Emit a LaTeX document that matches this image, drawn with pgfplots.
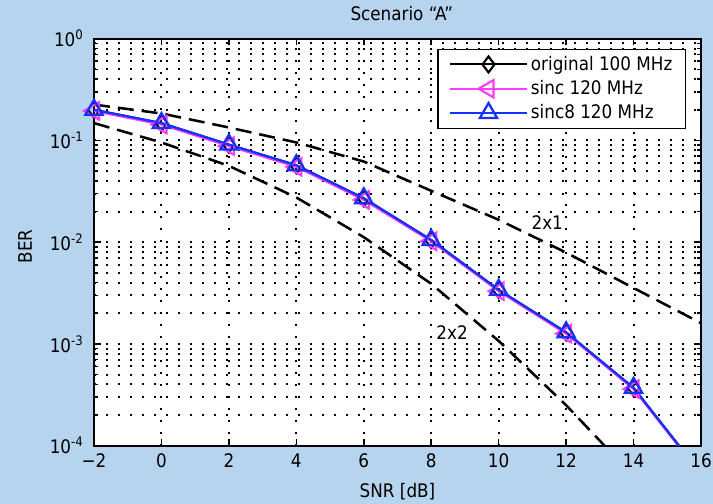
\documentclass[border=0pt]{standalone}
\usepackage{fontspec}
\setmainfont{DejaVu Sans Condensed}
\usepackage{pgfplots}
\pgfplotsset{compat=1.18}
\definecolor{bgblue}{RGB}{183,212,238}
\definecolor{mag}{RGB}{255,60,255}
\definecolor{myblue}{RGB}{20,50,255}
\newcommand{\ff}{\fontsize{14}{16}\selectfont}
\begin{document}
\ff
\begin{tikzpicture}
\fill[bgblue] (-70.5pt,-43.5pt) rectangle (464.25pt,334.25pt);
\begin{axis}[
  at={(0pt,0pt)}, anchor=south west,
  scale only axis, width=455.25pt, height=305.25pt,
  ymode=log, xmin=-2, xmax=16, ymin=1e-4, ymax=1,
  axis background/.style={fill=white},
  axis line style={line width=1.5pt},
  xtick={-2,0,2,4,6,8,10,12,14,16},
  xticklabels={−2,0,2,4,6,8,10,12,14,16},
  ytick={1e-4,1e-3,1e-2,1e-1,1},
  yticklabels={10\textsuperscript{-4},10\textsuperscript{-3},10\textsuperscript{-2},10\textsuperscript{-1},10\textsuperscript{0}},
  minor ytick={2e-4,3e-4,4e-4,5e-4,6e-4,7e-4,8e-4,9e-4,
               2e-3,3e-3,4e-3,5e-3,6e-3,7e-3,8e-3,9e-3,
               2e-2,3e-2,4e-2,5e-2,6e-2,7e-2,8e-2,9e-2,
               2e-1,3e-1,4e-1,5e-1,6e-1,7e-1,8e-1,9e-1},
  tick align=inside, tick pos=both,
  major tick length=5pt, minor tick length=3pt,
  every tick/.style={black, line width=1.2pt},
  grid=both,
  major grid style={black, line width=1.5pt, dash pattern=on 1.4pt off 7.6pt},
  minor grid style={black, line width=1.5pt, dash pattern=on 1.4pt off 7.6pt},
  every tick label/.append style={font=\ff},
  xticklabel style={yshift=-1pt},
  yticklabel style={xshift=-3pt},
  xlabel={SNR [dB]},
  ylabel={BER},
  title={Scenario “A”},
  every axis title shift=0pt,
  x label style={at={(axis description cs:0.5,-0.113)}, anchor=center, font=\ff},
  y label style={at={(axis description cs:-0.1137,0.49)}, anchor=center, rotate=0, font=\ff},
  title style={at={(axis description cs:0.507,1.061)}, anchor=center, font=\ff},
  legend style={at={(axis description cs:1,1)}, anchor=north east, xshift=-11pt, yshift=-7.5pt,
    draw=black, line width=0.9pt, fill=white, row sep=1.5pt, font=\ff,
    inner xsep=8pt, inner ysep=3pt},
  legend cell align=left,
  legend image code/.code={\draw (0pt,0pt) -- (58pt,0pt); \draw plot coordinates {(29pt,0pt)};},
]
% 2x1 reference (dashed)
\addplot[black, line width=1.9pt, dash pattern=on 12pt off 6pt, forget plot] coordinates {
(-2,0.225) (0,0.184) (2,0.134) (4,0.0955) (6,0.062) (8,0.032) (10,0.0166) (12,0.0079) (14,0.00355) (16,0.0016)};
% 2x2 reference (dashed)
\addplot[black, line width=1.9pt, dash pattern=on 12pt off 6pt, forget plot] coordinates {
(-2,0.148) (0,0.0955) (2,0.0562) (4,0.0275) (6,0.0112) (8,0.0039) (10,0.00107) (12,0.00025) (14,0.00005)};
\addplot[black, line width=1.6pt, mark=diamond, mark size=6pt, mark indices={1,2,3,4,5,6,7,8,9}] coordinates {
(-2,0.20) (0,0.148) (2,0.091) (4,0.057) (6,0.027) (8,0.0105) (10,0.0034) (12,0.0013) (14,0.00037) (16,0.000053)};
\addplot[mag, line width=1.6pt, mark=triangle, mark size=7.5pt, mark options={rotate=90}, mark indices={1,2,3,4,5,6,7,8,9}] coordinates {
(-2,0.195) (0,0.143) (2,0.088) (4,0.055) (6,0.026) (8,0.0102) (10,0.0033) (12,0.00126) (14,0.00036) (16,0.000052)};
\addplot[myblue, line width=1.7pt, mark=triangle, mark size=7.5pt, mark indices={1,2,3,4,5,6,7,8,9}] coordinates {
(-2,0.20) (0,0.148) (2,0.091) (4,0.057) (6,0.027) (8,0.0105) (10,0.0034) (12,0.0013) (14,0.00037) (16,0.000053)};
\legend{original 100 MHz, sinc 120 MHz, sinc8 120 MHz}
\node[font=\ff] at (axis cs:11.44,0.0157) {2x1};
\node[font=\ff] at (axis cs:8.62,0.00128) {2x2};
\end{axis}
\pgfresetboundingbox
\path (-70.5pt,-43.5pt) rectangle (464.25pt,334.25pt);
\end{tikzpicture}
\end{document}
